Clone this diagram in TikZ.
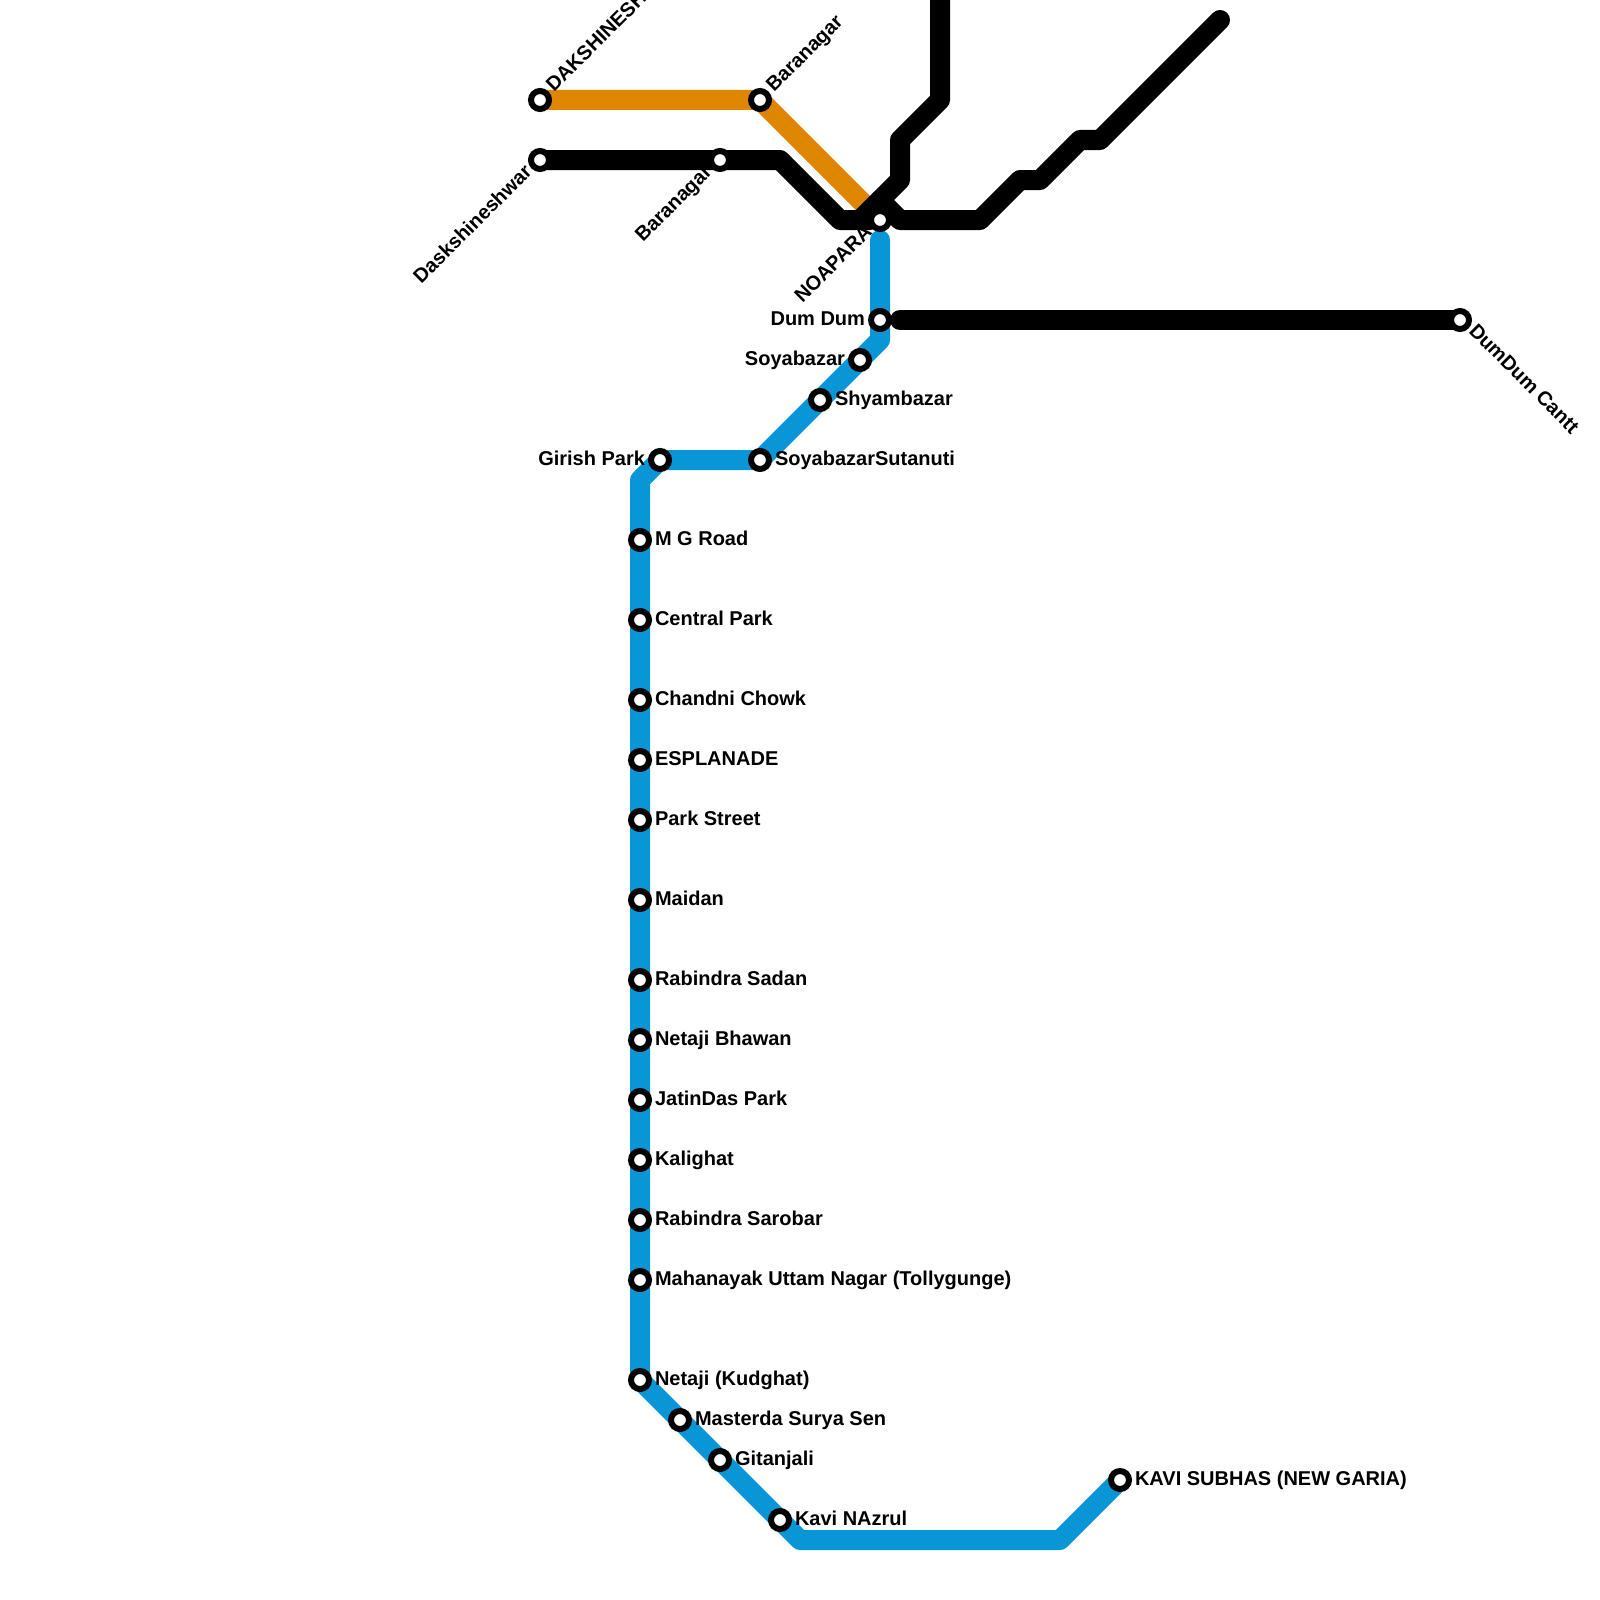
\documentclass[tikz,border=0pt]{standalone}
\usepackage{fontspec}
\setmainfont{Liberation Sans}
\definecolor{lineblue}{HTML}{0896D7}
\definecolor{lineorange}{HTML}{DF8600}
\tikzset{
  x=0.5pt,y=-0.5pt,
  metro/.style={line width=10pt,line cap=round,line join=round},
  stn/.style={circle,draw=black,fill=white,line width=3pt,minimum size=9pt,inner sep=0pt,outer sep=0pt},
  lbl/.style={font=\bfseries\fontsize{10}{11}\selectfont,inner sep=0pt,outer sep=0pt,text=black},
  lblR/.style={lbl,anchor=base west},
  lblL/.style={lbl,anchor=base east},
  lblUR/.style={lbl,anchor=base west,rotate=45},
  lblDL/.style={lbl,anchor=base east,rotate=45},
  lblDR/.style={lbl,anchor=base west,rotate=-45},
}
\begin{document}
\begin{tikzpicture}
\useasboundingbox (0,0) rectangle (1600,1600);
\clip (0,0) rectangle (1600,1600);
% corners
\coordinate (b1) at (880,240);
\coordinate (b2) at (880,340);
\coordinate (b3) at (660,460);
\coordinate (b4) at (640,480);
\coordinate (b5) at (800,1540);
\coordinate (b6) at (1060,1540);
\coordinate (o1) at (870,210);
\coordinate (k1) at (780,160);
\coordinate (k2) at (840,220);
\coordinate (k3) at (870,220);
\coordinate (n1) at (940,0);
\coordinate (n2) at (940,100);
\coordinate (n3) at (900,140);
\coordinate (n4) at (900,180);
\coordinate (n5) at (860,220);
\coordinate (e1) at (880,200);
\coordinate (e2) at (900,220);
\coordinate (e3) at (980,220);
\coordinate (e4) at (1020,180);
\coordinate (e5) at (1040,180);
\coordinate (e6) at (1080,140);
\coordinate (e7) at (1100,140);
\coordinate (e8) at (1220,20);
\coordinate (d1) at (900,320);
% station positions
\coordinate (pDak) at (540,100);
\coordinate (pBarO) at (760,100);
\coordinate (pDas) at (540,160);
\coordinate (pBarK) at (720,160);
\coordinate (pNoa) at (880,220);
\coordinate (pDum) at (880,320);
\coordinate (pCan) at (1460,320);
\coordinate (pSoy) at (860,360);
\coordinate (pShy) at (820,400);
\coordinate (pSut) at (760,460);
\coordinate (pGir) at (660,460);
\coordinate (pNet) at (640,1380);
\coordinate (pKav) at (780,1520);
\coordinate (pNew) at (1120,1480);
% lines
\draw[metro,lineblue] (b1) -- (b2) -- (pSut) -- (b3) -- (b4) -- (pNet) -- (pKav) -- (b5) -- (b6) -- (pNew);
\draw[metro,lineorange] (pDak) -- (pBarO) -- (o1);
\draw[metro,black] (pDas) -- (k1) -- (k2) -- (k3);
\draw[metro,black] (n1) -- (n2) -- (n3) -- (n4) -- (n5);
\draw[metro,black] (e1) -- (e2) -- (e3) -- (e4) -- (e5) -- (e6) -- (e7) -- (e8);
\draw[metro,black] (d1) -- (pCan);
% stations
\node[stn] (sDak) at (pDak) {};
\node[stn] (sBarO) at (pBarO) {};
\node[stn] (sDas) at (pDas) {};
\node[stn] (sBarK) at (pBarK) {};
\node[stn] (sNoa) at (pNoa) {};
\node[stn] (sDum) at (pDum) {};
\node[stn] (sCan) at (pCan) {};
\node[stn] (sSoy) at (pSoy) {};
\node[stn] (sShy) at (pShy) {};
\node[stn] (sSut) at (pSut) {};
\node[stn] (sGir) at (pGir) {};
\node[stn] (sMG) at (640,540) {};
\node[stn] (sCen) at (640,620) {};
\node[stn] (sCha) at (640,700) {};
\node[stn] (sEsp) at (640,760) {};
\node[stn] (sPar) at (640,820) {};
\node[stn] (sMai) at (640,900) {};
\node[stn] (sRab) at (640,980) {};
\node[stn] (sNeB) at (640,1040) {};
\node[stn] (sJat) at (640,1100) {};
\node[stn] (sKal) at (640,1160) {};
\node[stn] (sRaS) at (640,1220) {};
\node[stn] (sMah) at (640,1280) {};
\node[stn] (sNet) at (pNet) {};
\node[stn] (sMas) at (680,1420) {};
\node[stn] (sGit) at (720,1460) {};
\node[stn] (sKav) at (pKav) {};
\node[stn] (sNew) at (pNew) {};
% labels
\node[lblUR] (tDak) at (554,93) {DAKSHINESHWAR};
\node[lblUR] (tBarO) at (774,93) {Baranagar};
\node[lblDL] (tDas) at (533,173) {Daskshineshwar};
\node[lblDL] (tBarK) at (713,173) {Baranagar};
\node[lblDL] (tNoa) at (873,233) {NOAPARA};
\node[lblL] (tDum) at (865,325) {Dum Dum};
\node[lblDR] (tCan) at (1468,332) {DumDum Cantt};
\node[lblL] (tSoy) at (845,365) {Soyabazar};
\node[lblR] (tShy) at (835,405) {Shyambazar};
\node[lblR] (tSut) at (775,465) {SoyabazarSutanuti};
\node[lblL] (tGir) at (645,465) {Girish Park};
\node[lblR] (tMG) at (655,545) {M G Road};
\node[lblR] (tCen) at (655,625) {Central Park};
\node[lblR] (tCha) at (655,705) {Chandni Chowk};
\node[lblR] (tEsp) at (655,765) {ESPLANADE};
\node[lblR] (tPar) at (655,825) {Park Street};
\node[lblR] (tMai) at (655,905) {Maidan};
\node[lblR] (tRab) at (655,985) {Rabindra Sadan};
\node[lblR] (tNeB) at (655,1045) {Netaji Bhawan};
\node[lblR] (tJat) at (655,1105) {JatinDas Park};
\node[lblR] (tKal) at (655,1165) {Kalighat};
\node[lblR] (tRaS) at (655,1225) {Rabindra Sarobar};
\node[lblR] (tMah) at (655,1285) {Mahanayak Uttam Nagar (Tollygunge)};
\node[lblR] (tNet) at (655,1385) {Netaji (Kudghat)};
\node[lblR] (tMas) at (695,1425) {Masterda Surya Sen};
\node[lblR] (tGit) at (735,1465) {Gitanjali};
\node[lblR] (tKav) at (795,1525) {Kavi NAzrul};
\node[lblR] (tNew) at (1135,1485) {KAVI SUBHAS (NEW GARIA)};
\end{tikzpicture}
\end{document}
